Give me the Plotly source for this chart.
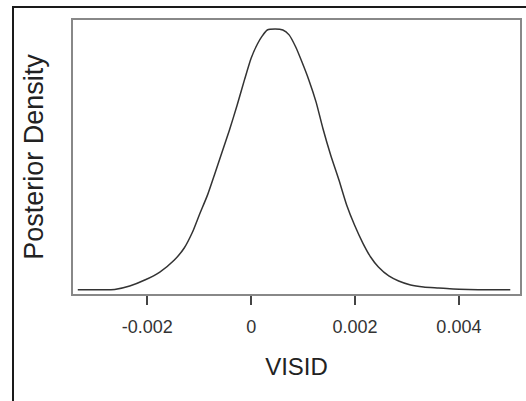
import plotly.graph_objects as go

# Posterior density of VISID
visid = [-0.00334, -0.00292, -0.00263, -0.00234, -0.00205, -0.00176, -0.00148, -0.00129,
         -0.00113, -0.00100, -0.00084, -0.00071, -0.00058, -0.00042, -0.00027, -0.00013,
         0.00000, 0.00012, 0.00021, 0.00031, 0.00046, 0.00061, 0.00073, 0.00086,
         0.00098, 0.00111, 0.00125, 0.00138, 0.00153, 0.00169, 0.00184, 0.00199,
         0.00215, 0.00230, 0.00245, 0.00265, 0.00284, 0.00307, 0.00332, 0.00361,
         0.00389, 0.00418, 0.00456, 0.00499]
density = [0.3, 0.4, 0.8, 6.1, 15.3, 27.6, 46.0, 64.4,
           88.9, 115.0, 145.8, 176.0, 207.0, 245.0, 283.5, 322.0,
           355.6, 377.0, 389.0, 398.5, 400.0, 398.5, 391.0, 372.0,
           349.0, 322.0, 288.0, 248.0, 207.0, 168.6, 130.0, 99.6,
           72.0, 50.6, 35.2, 21.5, 13.8, 7.7, 4.6, 3.1,
           1.5, 0.8, 0.4, 0.3]

tick_vals = [-0.002, 0, 0.002, 0.004]
tick_text = ["-0.002", "0", "0.002", "0.004"]

x_title = "VISID"
y_title = "Posterior Density"

fig = go.Figure()
fig.add_trace(go.Scatter(
    x=visid, y=density, mode="lines",
    line=dict(color="#333333", width=1.5, shape="spline", smoothing=0.6),
    showlegend=False, hoverinfo="skip",
))

L, R, T, B = 73, 4, 20, 107
W, H = 526, 401

fig.update_layout(
    width=W, height=H,
    margin=dict(l=L, r=R, t=T, b=B),
    paper_bgcolor="white", plot_bgcolor="white",
    font=dict(family="Liberation Sans, Arial, sans-serif", color="#222222"),
    xaxis=dict(
        range=[-0.003432, 0.005177],
        tickvals=tick_vals, ticktext=tick_text,
        ticks="outside", ticklen=9, tickwidth=1.5, tickcolor="#444444",
        ticklabelstandoff=6,
        tickfont=dict(size=18, color="#333333"),
        showgrid=False, zeroline=False,
        showline=True, linecolor="#888888", linewidth=2, mirror=True,
        title=dict(text=x_title, font=dict(size=24, color="#222222"), standoff=23),
    ),
    yaxis=dict(
        range=[-6.1, 413.8],
        showticklabels=False, ticks="",
        showgrid=False, zeroline=False,
        showline=True, linecolor="#888888", linewidth=2, mirror=True,
        title=dict(text=y_title, font=dict(size=27, color="#222222"), standoff=20),
    ),
)

# outer frame around the figure (pixel offsets from the plot area's top-left corner)
fig.add_shape(type="rect", xref="paper", yref="paper",
              xsizemode="pixel", ysizemode="pixel", xanchor=0, yanchor=1,
              x0=13 - L, x1=W + 20 - L, y0=-(H + 20 - T), y1=T - 7,
              line=dict(color="#1a1a1a", width=2), layer="above")

fig.write_html("out.html")
